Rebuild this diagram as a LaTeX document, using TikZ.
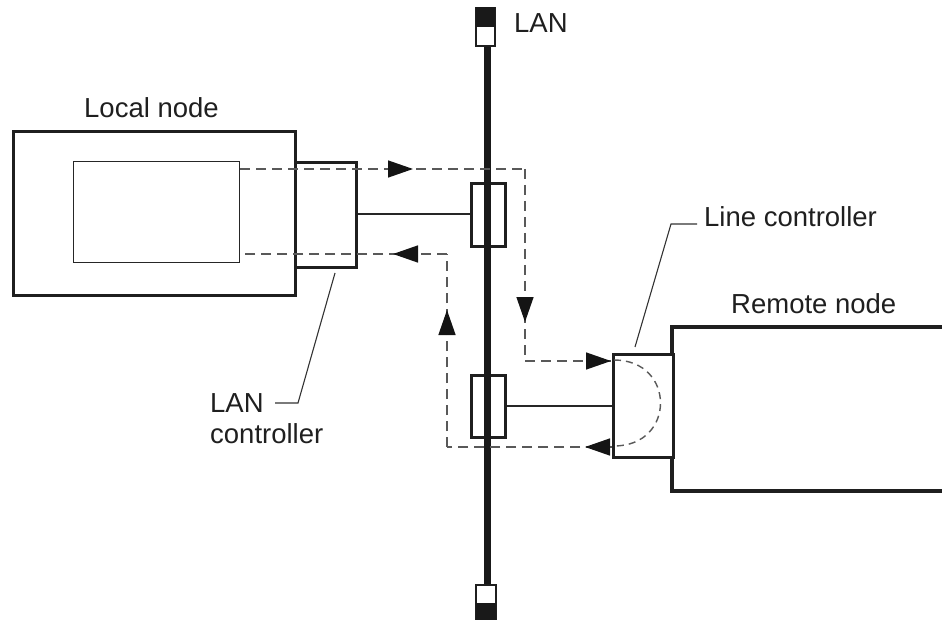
\documentclass[tikz,border=0pt]{standalone}
\usepackage{fontspec}
\setmainfont{Liberation Sans}
\usetikzlibrary{arrows.meta,decorations.markings}
\begin{document}
\begin{tikzpicture}[x=1pt,y=-1pt,
  thickbox/.style={draw=black!88, line width=3.2pt, fill=white},
  ifbox/.style={draw=black!88, fill=white, line width=2.6pt},
  thinline/.style={draw=black!85, line width=1.3pt},
  leader/.style={draw=black!80, line width=1.1pt},
  dline/.style={draw=black!65, line width=1.4pt, dash pattern=on 10pt off 6pt},
  arr/.style={postaction={decorate},decoration={markings,
    mark=at position #1 with {\arrow{Triangle[length=25pt 0 0,width=17pt 0 0,color=black!92]}}}},
  lbl/.style={inner sep=0pt, anchor=base west, font=\fontsize{27.5}{32}\selectfont, text=black!88},
  bus/.style={draw=black!90, line width=7pt}
]
\useasboundingbox (0,0) rectangle (942,620);

% Local node
\node[thickbox, anchor=north west, minimum width=282pt, minimum height=164pt, inner sep=0pt] (local) at (12,130) {};
\node[draw=black!85, line width=1.3pt, anchor=north west, minimum width=166pt, minimum height=101pt, inner sep=0pt] (inner) at (73,161) {};
\node[thickbox, anchor=north west, minimum width=61pt, minimum height=105pt, inner sep=0pt] (lanctrl) at (294,161) {};

% Interface boxes on LAN
\node[ifbox, anchor=north west, minimum width=34pt, minimum height=63pt, inner sep=0pt] (if1) at (470,182) {};
\node[ifbox, anchor=north west, minimum width=34pt, minimum height=62pt, inner sep=0pt] (if2) at (470,374) {};

% Remote node (open to the right)
\coordinate (r1) at (946,327);
\coordinate (r2) at (672,327);
\coordinate (r3) at (672,491);
\coordinate (r4) at (946,491);
\draw[draw=black!88, line width=3.2pt] (r1) -- (r2) -- (r3) -- (r4);
\node[thickbox, anchor=north west, minimum width=60pt, minimum height=103pt, inner sep=0pt] (linectrl) at (612,353) {};

% LAN bus and terminators
\coordinate (bt) at (487,45);
\coordinate (bb) at (487,584);
\draw[bus] (bt) -- (bb);
\node[draw=black!88, fill=white, line width=2pt, anchor=north, minimum width=19pt, minimum height=38pt, inner sep=0pt] (termtop) at (485.5,7) {};
\fill[black!90] (476,7) rectangle (495,27);
\node[draw=black!88, fill=white, line width=2pt, anchor=north, minimum width=20pt, minimum height=40pt, inner sep=0pt] (termbot) at (486,584) {};
\fill[black!90] (476,603) rectangle (496,622);

% solid links
\draw[thinline] (lanctrl.east |- 0,214) -- (if1.west |- 0,214);
\draw[thinline] (if2.east |- 0,406) -- (linectrl.west |- 0,406);

% dashed flows
\coordinate (u0) at (240,169);
\coordinate (u1) at (525,169);
\coordinate (u2) at (525,361);
\coordinate (u3) at (611,361);
\draw[dline, arr=173pt] (u0) -- (u1);
\draw[dline, arr=153pt] (u1) -- (u2);
\draw[dline, arr=1] (u2) -- (u3);

\coordinate (l0) at (612,447);
\coordinate (l1) at (447,447);
\coordinate (l2) at (447,254);
\coordinate (l3) at (240,254);
\draw[dline, arr=27pt] (l0) -- (l1);
\draw[dline, arr=137pt] (l1) -- (l2);
\draw[dline, arr=54pt] (l2) -- (l3);

% dashed semicircle in line controller
\coordinate (c0) at (614,360);
\coordinate (c1) at (614,446);
\draw[dline, dash pattern=on 7pt off 5pt] (c0) .. controls (676,360) and (676,446) .. (c1);

% labels
\node[lbl] (tlan) at (514,33) {LAN};
\node[lbl] (tlocal) at (84,118) {Local node};
\node[lbl] (tline) at (704,227) {Line controller};
\node[lbl] (tremote) at (731,313) {Remote node};
\node[lbl] (tlan2) at (210,412) {LAN};
\node[lbl] (tctrl) at (210,443) {controller};

% leaders
\coordinate (la) at (635,347);
\coordinate (lb) at (671,224);
\coordinate (lc) at (697,224);
\draw[leader] (la) -- (lb) -- (lc);
\coordinate (ma) at (335,273);
\coordinate (mb) at (298,403);
\coordinate (mc) at (275,403);
\draw[leader] (ma) -- (mb) -- (mc);
\end{tikzpicture}
\end{document}
